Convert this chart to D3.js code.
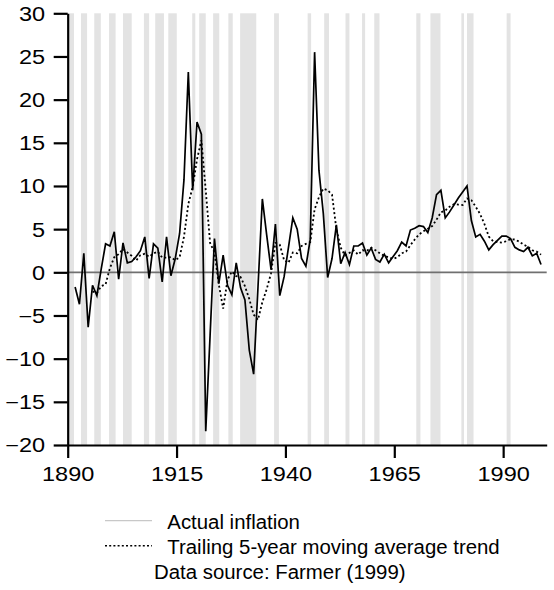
<!DOCTYPE html>
<html>
<head>
<meta charset="utf-8">
<script src="https://cdn.jsdelivr.net/npm/d3@7"></script>
<style>
  html, body { margin: 0; padding: 0; background: #fff; }
  svg { display: block; }
  text { font-family: "Liberation Sans", Arial, sans-serif; fill: #000; }
</style>
</head>
<body>
<svg id="chart" width="554" height="590"></svg>
<script>
// ---------------- data ----------------
const firstYear = 1891;
const inflation = [
  -1.7, -3.7, 2.2, -6.35, -1.5, -2.7, 0.4, 3.3, 3.05, 4.7,      // 1891-1900
  -0.8, 3.4, 1.1, 1.25, 1.8, 2.5, 4.1, -0.7, 3.3, 2.8,          // 1901-1910
  -1.1, 4.1, -0.4, 1.6, 4.5, 10.7, 23.2, 9.5, 17.4, 16.0,       // 1911-1920
  -18.4, -7.3, 3.9, -1.3, 2.0, -1.5, -2.6, 1.1, -1.8, -3.2,     // 1921-1930
  -9.0, -11.8, -1.7, 8.5, 4.3, 0.3, 5.6, -2.7, -0.5, 2.9,       // 1931-1940
  6.3, 5.0, 1.6, 0.7, 3.8, 25.5, 11.8, 6.8, -0.6, 1.6,          // 1941-1950
  5.5, 1.0, 2.3, 0.9, 3.05, 3.05, 3.4, 2.0, 2.8, 1.5,           // 1951-1960
  1.2, 2.1, 1.1, 1.8, 2.5, 3.5, 3.05, 4.9, 5.1, 5.4,            // 1961-1970
  5.3, 4.6, 6.3, 9.0, 9.5, 6.3, 7.0, 7.8, 8.6, 9.3,             // 1971-1980
  10.0, 6.0, 4.1, 4.4, 3.6, 2.6, 3.2, 3.7, 4.2, 4.2,            // 1981-1990
  3.9, 2.9, 2.6, 2.4, 2.9, 1.9, 2.2, 0.9                        // 1991-1998
];
const trendFirstYear = 1895;
const trend = [
  -2.2, -2.4, -1.6, -1.4, 0.5, 1.75,                            // 1895-1900
  2.1, 2.7, 2.3, 1.9, 1.35, 2.0, 2.15, 1.8, 2.2, 2.4,           // 1901-1910
  1.7, 1.7, 1.75, 1.4, 1.75, 4.1, 7.9, 9.9, 13.1, 15.3,         // 1911-1920
  9.5, 3.4, 2.3, -1.4, -4.2, -0.85, 0.1, -0.45, -0.55, -1.6,    // 1921-1930
  -3.1, -4.9, -5.5, -3.45, -1.95, -0.1, 3.4, 3.2, 1.4, 1.1,     // 1931-1940
  2.3, 2.2, 3.05, 3.3, 3.5, 7.3, 8.7, 9.7, 9.5, 9.0,            // 1941-1950
  5.0, 2.85, 1.95, 2.25, 2.55, 2.05, 2.55, 2.5, 2.85, 2.55,     // 1951-1960
  2.2, 1.9, 1.75, 1.55, 1.75, 2.2, 2.4, 3.15, 3.8, 4.4,         // 1961-1970
  4.75, 5.05, 5.35, 6.1, 6.95, 7.15, 7.6, 7.9, 7.85, 7.8,       // 1971-1980
  8.55, 8.35, 7.6, 6.75, 5.6, 4.15, 3.6, 3.5, 3.45, 3.6,        // 1981-1990
  3.85, 3.8, 3.55, 3.2, 2.95, 2.55, 2.4, 2.05                   // 1991-1998
];
// shaded periods (recessions), start/end in years
const recessionStart = [1890.4, 1893.05, 1896.1, 1899.5, 1902.7, 1907.5, 1910.1, 1913.1, 1918.6, 1920.2,
  1923.4, 1926.9, 1929.6, 1937.4, 1945.1, 1948.9, 1953.8, 1957.6, 1960.4, 1970.05,
  1973.3, 1980.4, 1981.7, 1990.8];
const recessionEnd = [1891.45, 1894.45, 1897.6, 1901.0, 1904.7, 1908.7, 1912.1, 1915.05, 1919.3, 1921.7,
  1924.8, 1927.9, 1933.3, 1938.5, 1945.9, 1950.0, 1954.7, 1958.3, 1961.6, 1971.0,
  1975.6, 1981.0, 1983.2, 1991.7];
const xTicks = [1890, 1915, 1940, 1965, 1990];
const yTicks = [-20, -15, -10, -5, 0, 5, 10, 15, 20, 25, 30];
const legendLabels = ["Actual inflation", "Trailing 5-year moving average trend", "Data source: Farmer (1999)"];

// ---------------- layout ----------------
const svg = d3.select("#chart");
const mLeft = 67.7, mRight = 546.7, mTop = 13.3, mBottom = 445;
const x = d3.scaleLinear().domain([1890, 2000]).range([mLeft, mRight]);
const y = d3.scaleLinear().domain([-20, 30]).range([mBottom, mTop]);
const pointShift = 0.7;   // annual observations plotted within the year
const stretch = 1.22;     // horizontally stretched tick lettering
const fontSize = 19.3;
const legendFont = 20;

// recession shading
svg.append("g").selectAll("rect")
  .data(recessionStart.map((s, i) => [s, recessionEnd[i]]))
  .join("rect")
  .attr("x", d => x(d[0]))
  .attr("width", d => x(d[1]) - x(d[0]))
  .attr("y", y(30))
  .attr("height", y(-20) - y(30))
  .attr("fill", "#e3e3e3");

// zero line
svg.append("line")
  .attr("x1", x(1890)).attr("x2", x(2000))
  .attr("y1", y(0)).attr("y2", y(0))
  .attr("stroke", "#707070").attr("stroke-width", 1.8);

// series
const actualPts = inflation.map((v, i) => [firstYear + i, v]);
const trendPts = trend.map((v, i) => [trendFirstYear + i, v]);
const line = d3.line().x(d => x(d[0] + pointShift)).y(d => y(d[1]));

svg.append("path").datum(trendPts)
  .attr("d", line).attr("fill", "none")
  .attr("stroke", "#000").attr("stroke-width", 1.8)
  .attr("stroke-dasharray", "2,2.5");

svg.append("path").datum(actualPts)
  .attr("d", line).attr("fill", "none")
  .attr("stroke", "#000").attr("stroke-width", 1.7)
  .attr("stroke-linejoin", "miter");

// y axis
const yAxis = svg.append("g").attr("transform", `translate(${mLeft},0)`)
  .call(d3.axisLeft(y).tickValues(yTicks).tickSize(14).tickSizeOuter(0).tickFormat(d3.format("d")));
yAxis.select(".domain").attr("stroke-width", 2.2);
yAxis.selectAll(".tick line").attr("stroke-width", 2.2);
yAxis.selectAll(".tick text")
  .attr("font-size", fontSize)
  .attr("font-family", "Liberation Sans, Arial, sans-serif")
  .attr("x", -22.5 / stretch)
  .attr("dy", "0.36em")
  .attr("transform", `scale(${stretch},1)`)
  .attr("fill", "#000");

// x axis
const xAxis = svg.append("g").attr("transform", `translate(0,${mBottom})`)
  .call(d3.axisBottom(x).tickValues(xTicks).tickSize(13).tickSizeOuter(0).tickFormat(d3.format("d")));
xAxis.select(".domain").attr("stroke-width", 2.2);
xAxis.selectAll(".tick line").attr("stroke-width", 2.2);
xAxis.selectAll(".tick text")
  .attr("font-size", fontSize)
  .attr("font-family", "Liberation Sans, Arial, sans-serif")
  .attr("y", 36).attr("dy", 0)
  .attr("transform", `scale(${stretch},1)`)
  .attr("fill", "#000");

// legend
const leg = svg.append("g");
leg.append("line").attr("x1", 105).attr("x2", 152).attr("y1", 520.7).attr("y2", 520.7)
  .attr("stroke", "#c8c8c8").attr("stroke-width", 1.2);
leg.append("line").attr("x1", 105).attr("x2", 152).attr("y1", 545.7).attr("y2", 545.7)
  .attr("stroke", "#000").attr("stroke-width", 1.6).attr("stroke-dasharray", "2,2.2");
const legPos = [[167.3, 529.3], [167.3, 553.5], [154, 578.5]];
leg.selectAll("text").data(legendLabels).join("text")
  .attr("transform", (d, i) => `translate(${legPos[i][0]},${legPos[i][1]}) scale(1.02,1)`)
  .attr("font-size", legendFont)
  .text(d => d);
</script>
</body>
</html>
